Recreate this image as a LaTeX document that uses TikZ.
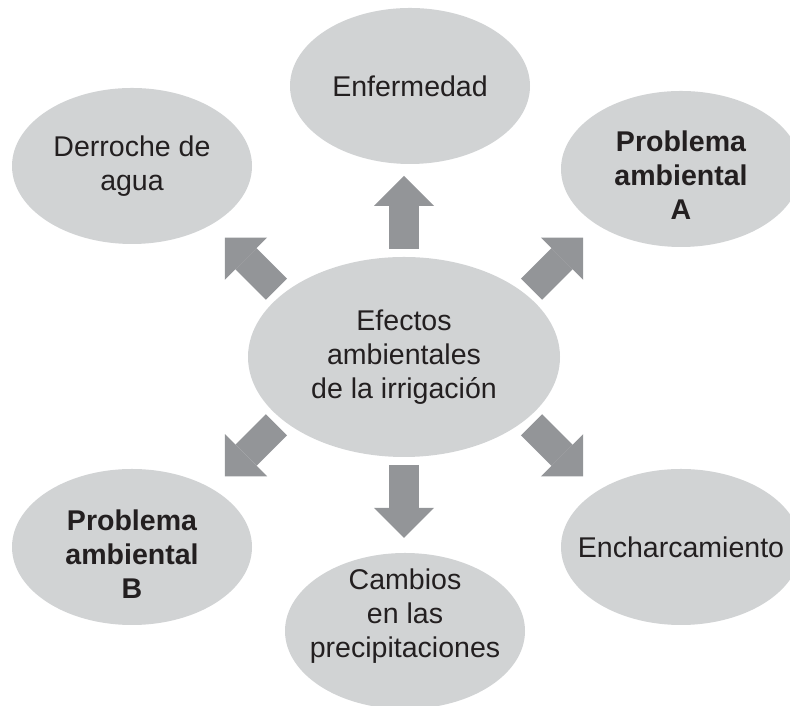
\documentclass[tikz,border=0pt]{standalone}
\usepackage{fontspec}
\setmainfont{Liberation Sans}
\usetikzlibrary{shapes.geometric,arrows.meta}
\definecolor{bubblegray}{RGB}{209,211,212}
\definecolor{arrowgray}{RGB}{147,149,152}
\definecolor{ink}{RGB}{35,31,32}
\begin{document}
\begin{tikzpicture}[
    bubble/.style={ellipse,fill=bubblegray,minimum width=6cm,minimum height=3.9cm,inner sep=0pt},
    txt/.style={align=center,text=ink,font=\fontsize{20.3}{24.2}\selectfont},
    boldtxt/.style={align=center,text=ink,font=\fontsize{20.3}{24.2}\selectfont\bfseries},
    bigarrow/.style={arrowgray,line width=0.75cm,-{Triangle[width=1.5cm,length=0.75cm,line width=0pt]}}]
    \useasboundingbox (0,0) rectangle (19.75,17.65);
    \node[bubble,minimum width=7.8cm,minimum height=5cm,outer sep=0.2cm,
        label={[txt]center:Efectos\\ambientales\\de la irrigación}] (c) at (10.1,8.725) {};
    \node[bubble,label={[txt]center:Enfermedad}] (enf) at (10.25,15.5) {};
    \node[bubble,label={[txt]center:Derroche de\\agua}] (derr) at (3.3,13.5) {};
    \node[bubble,label={[boldtxt,yshift=-0.15cm]center:Problema\\ambiental\\A}] (probA) at (17.025,13.425) {};
    \node[bubble,label={[boldtxt,yshift=-0.18cm]center:Problema\\ambiental\\B}] (probB) at (3.3,3.975) {};
    \node[bubble,label={[txt,yshift=0.375cm]center:Cambios\\en las\\precipitaciones}] (camb) at (10.125,1.875) {};
    \node[bubble,label={[txt]center:Encharcamiento}] (ench) at (17.025,3.975) {};
    \foreach \a/\d in {90/90,152/135,28/45,208/225,270/270,332/315}
        \draw[bigarrow] (c.\a) -- ++(\d:1.825);
\end{tikzpicture}
\end{document}
